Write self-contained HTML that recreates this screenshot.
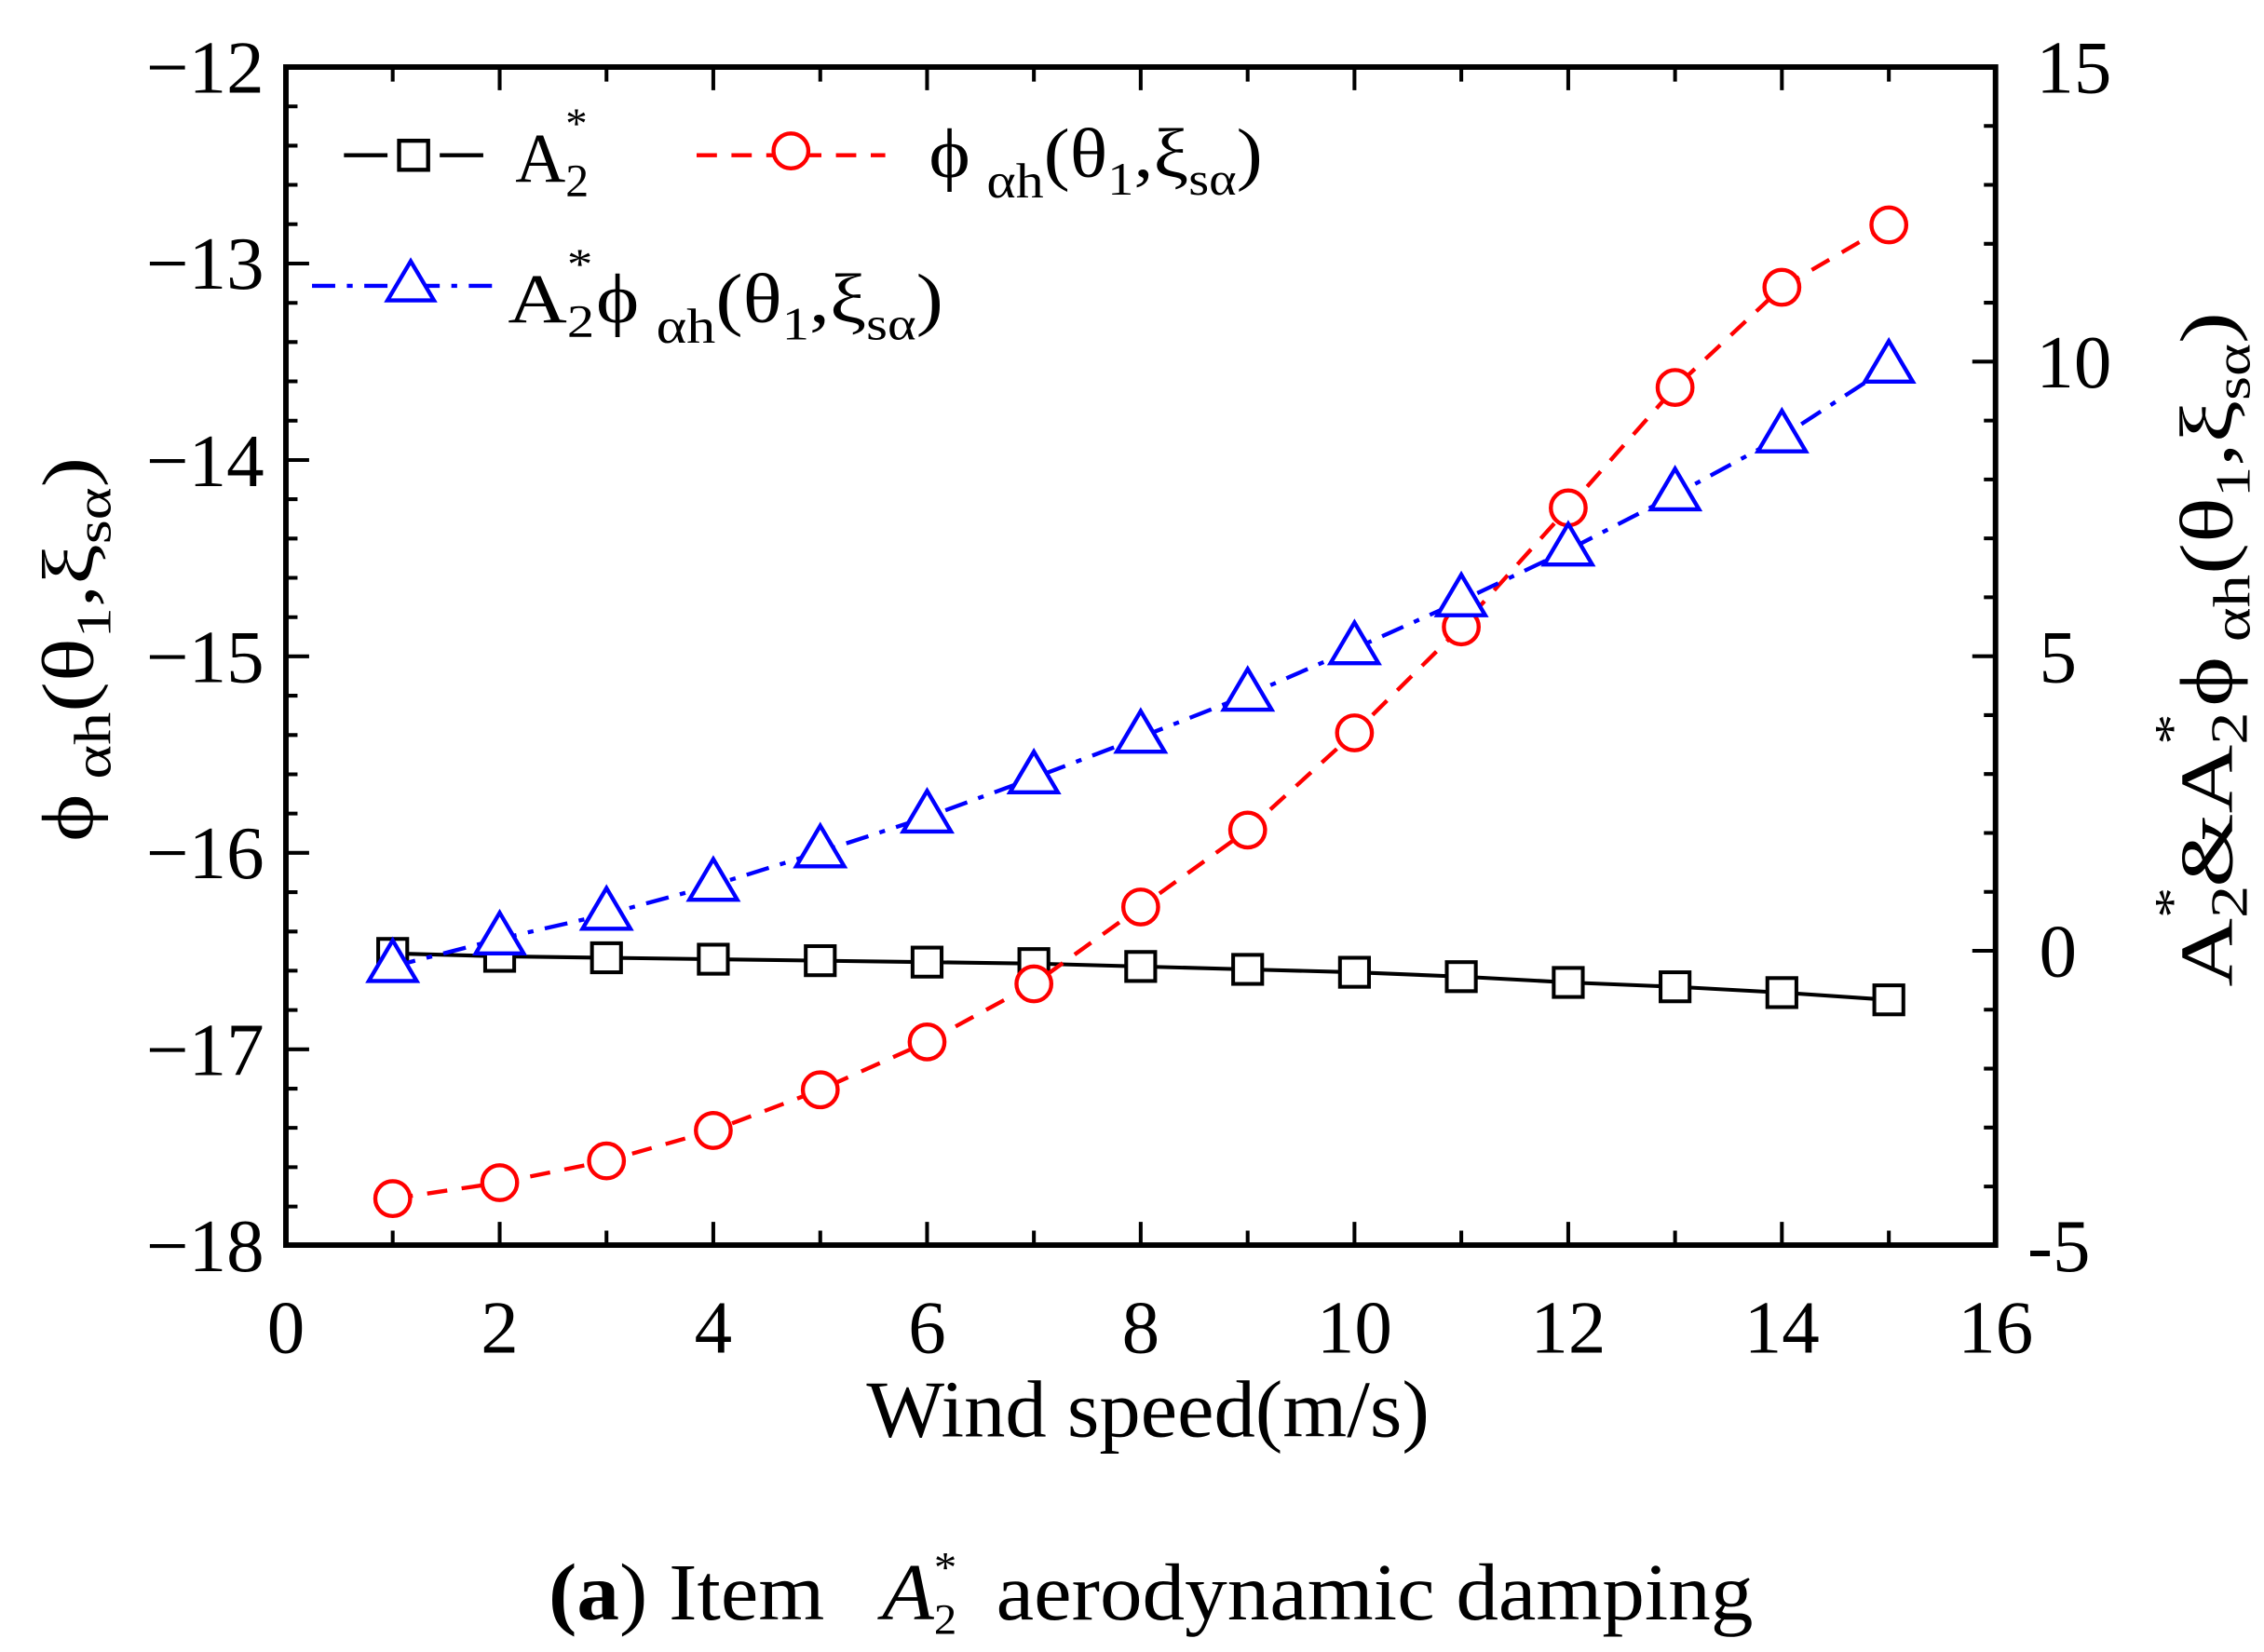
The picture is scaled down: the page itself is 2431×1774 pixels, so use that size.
<!DOCTYPE html>
<html><head><meta charset="utf-8"><style>
html,body{margin:0;padding:0;background:#fff;}
svg{display:block;}
text{font-family:"Liberation Serif","DejaVu Serif",serif;fill:#000;}
</style></head><body>
<svg width="2431" height="1774" viewBox="0 0 1560 1138.4" preserveAspectRatio="none" xmlns="http://www.w3.org/2000/svg">
<rect width="1560" height="1138.4" fill="#fff"/>
<g stroke="#000" stroke-width="2.6" fill="none">
<path d="M197 46.2h16M197 73.3h8M197 100.4h8M197 127.4h8M197 154.5h8M197 181.6h16M197 208.7h8M197 235.7h8M197 262.8h8M197 289.9h8M197 317h16M197 344h8M197 371.1h8M197 398.2h8M197 425.3h8M197 452.3h16M197 479.4h8M197 506.5h8M197 533.6h8M197 560.6h8M197 587.7h16M197 614.8h8M197 641.9h8M197 668.9h8M197 696h8M197 723.1h16M197 750.2h8M197 777.2h8M197 804.3h8M197 831.4h8"/>
<path d="M1375 86.8h-8M1375 127.4h-8M1375 168h-8M1375 208.6h-8M1375 249.2h-16M1375 289.8h-8M1375 330.4h-8M1375 371h-8M1375 411.6h-8M1375 452.2h-16M1375 492.8h-8M1375 533.4h-8M1375 574h-8M1375 614.6h-8M1375 655.2h-16M1375 695.8h-8M1375 736.4h-8M1375 777h-8M1375 817.6h-8"/>
<path d="M270.6 858v-10M344.3 858v-16M417.9 858v-10M491.5 858v-16M565.2 858v-10M638.8 858v-16M712.4 858v-10M786 858v-16M859.7 858v-10M933.3 858v-16M1006.9 858v-10M1080.6 858v-16M1154.2 858v-10M1227.8 858v-16M1301.5 858v-10"/>
<path d="M270.6 46.2v10M344.3 46.2v16M417.9 46.2v10M491.5 46.2v16M565.2 46.2v10M638.8 46.2v16M712.4 46.2v10M786 46.2v16M859.7 46.2v10M933.3 46.2v16M1006.9 46.2v10M1080.6 46.2v16M1154.2 46.2v10M1227.8 46.2v16M1301.5 46.2v10"/>
<rect x="197" y="46.2" width="1178" height="811.8" stroke-width="3.8"/>
</g>

<g stroke="#000" stroke-width="2.6" fill="none">
<polyline points="270.6,657 344.3,659 417.9,660 491.5,661 565.2,662 638.8,663 712.4,664 786,666 859.7,668 933.3,670 1006.9,673 1080.6,677 1154.2,680 1227.8,684 1301.5,689"/>
<g fill="#fff">
<rect x="260.6" y="647" width="20" height="20"/><rect x="334.3" y="649" width="20" height="20"/><rect x="407.9" y="650" width="20" height="20"/><rect x="481.5" y="651" width="20" height="20"/><rect x="555.2" y="652" width="20" height="20"/><rect x="628.8" y="653" width="20" height="20"/><rect x="702.4" y="654" width="20" height="20"/><rect x="776" y="656" width="20" height="20"/><rect x="849.7" y="658" width="20" height="20"/><rect x="923.3" y="660" width="20" height="20"/><rect x="996.9" y="663" width="20" height="20"/><rect x="1070.6" y="667" width="20" height="20"/><rect x="1144.2" y="670" width="20" height="20"/><rect x="1217.8" y="674" width="20" height="20"/><rect x="1291.5" y="679" width="20" height="20"/>
</g></g>

<g stroke="#f00" stroke-width="2.8" fill="none">
<polyline stroke-dasharray="14,10" points="270.6,826 344.3,815 417.9,800 491.5,779 565.2,751 638.8,718 712.4,678 786,625 859.7,572 933.3,505 1006.9,432 1080.6,350 1154.2,267 1227.8,198 1301.5,155"/>
<g fill="#fff">
<circle cx="270.6" cy="826" r="12"/><circle cx="344.3" cy="815" r="12"/><circle cx="417.9" cy="800" r="12"/><circle cx="491.5" cy="779" r="12"/><circle cx="565.2" cy="751" r="12"/><circle cx="638.8" cy="718" r="12"/><circle cx="712.4" cy="678" r="12"/><circle cx="786" cy="625" r="12"/><circle cx="859.7" cy="572" r="12"/><circle cx="933.3" cy="505" r="12"/><circle cx="1006.9" cy="432" r="12"/><circle cx="1080.6" cy="350" r="12"/><circle cx="1154.2" cy="267" r="12"/><circle cx="1227.8" cy="198" r="12"/><circle cx="1301.5" cy="155" r="12"/>
</g></g>

<g stroke="#00f" stroke-width="2.8" fill="none">
<polyline stroke-dasharray="16,8,4,8" points="270.6,666 344.3,647 417.9,630 491.5,610 565.2,587 638.8,563 712.4,536 786,508 859.7,479 933.3,447 1006.9,414 1080.6,379 1154.2,341 1227.8,301 1301.5,253"/>
</g>

<g stroke-width="2.8" fill="none">
<path d="M237 107h30M303 107h30" stroke="#000"/>
<rect x="275" y="97" width="20" height="20" stroke="#000" fill="#fff"/>
<path d="M480 107h130" stroke="#f00" stroke-dasharray="14,10"/>
<circle cx="545" cy="104" r="12" stroke="#f00" fill="#fff"/>
<path d="M215 197h125" stroke="#00f" stroke-dasharray="16,8,4,8"/>
<polygon points="283,180 299,207 267,207" stroke="#00f" fill="#fff"/>
</g>
<g font-size="48">
<text x="355" y="125">A<tspan font-size="32" dy="10">2</tspan><tspan font-size="30" dx="-16" dy="-40">*</tspan></text>
<text x="640" y="122" textLength="230" lengthAdjust="spacingAndGlyphs">ϕ<tspan font-size="34" dx="10" dy="14">αh</tspan><tspan dy="-14">(θ</tspan><tspan font-size="32" dy="12">1</tspan><tspan dy="-12">,ξ</tspan><tspan font-size="32" dy="12">sα</tspan><tspan dy="-12">)</tspan></text>
<text x="350" y="222" textLength="300" lengthAdjust="spacingAndGlyphs">A<tspan font-size="32" dy="10">2</tspan><tspan font-size="30" dx="-16" dy="-40">*</tspan><tspan dx="2" dy="30">ϕ</tspan><tspan font-size="34" dx="10" dy="14">αh</tspan><tspan dy="-14">(θ</tspan><tspan font-size="32" dy="12">1</tspan><tspan dy="-12">,ξ</tspan><tspan font-size="32" dy="12">sα</tspan><tspan dy="-12">)</tspan></text>
</g>

<g font-size="52" text-anchor="end">
<text x="182" y="64">−12</text><text x="182" y="199">−13</text><text x="182" y="335">−14</text><text x="182" y="470">−15</text><text x="182" y="605">−16</text><text x="182" y="741">−17</text><text x="182" y="876">−18</text>
</g>
<g font-size="52" text-anchor="start">
<text x="1403" y="64">15</text><text x="1403" y="267">10</text><text x="1405" y="470">5</text><text x="1405" y="673">0</text><text x="1397" y="876">-5</text>
</g>
<g font-size="52" text-anchor="middle">
<text x="197" y="932">0</text><text x="344.3" y="932">2</text><text x="491.5" y="932">4</text><text x="638.8" y="932">6</text><text x="786" y="932">8</text><text x="933.3" y="932">10</text><text x="1080.6" y="932">12</text><text x="1227.8" y="932">14</text><text x="1375" y="932">16</text>
</g>
<text x="597" y="990" font-size="56" textLength="388" lengthAdjust="spacingAndGlyphs">Wind speed(m/s)</text>

<text transform="translate(64,315) rotate(-90)" font-size="50" text-anchor="end" textLength="265" lengthAdjust="spacingAndGlyphs">ϕ<tspan font-size="36" dx="8" dy="12">αh</tspan><tspan dy="-12">(θ</tspan><tspan font-size="34" dy="12">1</tspan><tspan dy="-12">,ξ</tspan><tspan font-size="34" dy="12">sα</tspan><tspan dy="-12">)</tspan></text>
<text transform="translate(1538,215) rotate(-90)" font-size="52" text-anchor="end" textLength="465" lengthAdjust="spacingAndGlyphs">A<tspan font-size="36" dy="10">2</tspan><tspan font-size="34" dx="-18" dy="-40">*</tspan><tspan dy="30">&amp;A</tspan><tspan font-size="36" dy="10">2</tspan><tspan font-size="34" dx="-18" dy="-40">*</tspan><tspan dx="4" dy="30">ϕ</tspan><tspan font-size="36" dx="8" dy="12">αh</tspan><tspan dy="-12">(θ</tspan><tspan font-size="34" dy="12">1</tspan><tspan dy="-12">,ξ</tspan><tspan font-size="34" dy="12">sα</tspan><tspan dy="-12">)</tspan></text>

<text x="378" y="1116" font-size="56" textLength="830" lengthAdjust="spacingAndGlyphs"><tspan font-weight="bold">(a</tspan>) Item <tspan font-style="italic" dx="24">A</tspan><tspan font-size="30" dy="10">2</tspan><tspan font-size="30" dx="-15" dy="-36">*</tspan><tspan dx="26" dy="26">aerodynamic damping</tspan></text>

<g stroke="#00f" stroke-width="2.8" fill="#fff">
<polygon points="270.6,648 287.1,676 254.1,676"/>
<polygon points="344.3,629 360.8,657 327.8,657"/>
<polygon points="417.9,612 434.4,640 401.4,640"/>
<polygon points="491.5,592 508,620 475,620"/>
<polygon points="565.2,569 581.7,597 548.7,597"/>
<polygon points="638.8,545 655.3,573 622.3,573"/>
<polygon points="712.4,518 728.9,546 695.9,546"/>
<polygon points="786,490 802.5,518 769.5,518"/>
<polygon points="859.7,461 876.2,489 843.2,489"/>
<polygon points="933.3,429 949.8,457 916.8,457"/>
<polygon points="1006.9,396 1023.4,424 990.4,424"/>
<polygon points="1080.6,361 1097.1,389 1064.1,389"/>
<polygon points="1154.2,323 1170.7,351 1137.7,351"/>
<polygon points="1227.8,283 1244.3,311 1211.3,311"/>
<polygon points="1301.5,235 1318,263 1285,263"/>
</g>
</svg>
</body></html>
